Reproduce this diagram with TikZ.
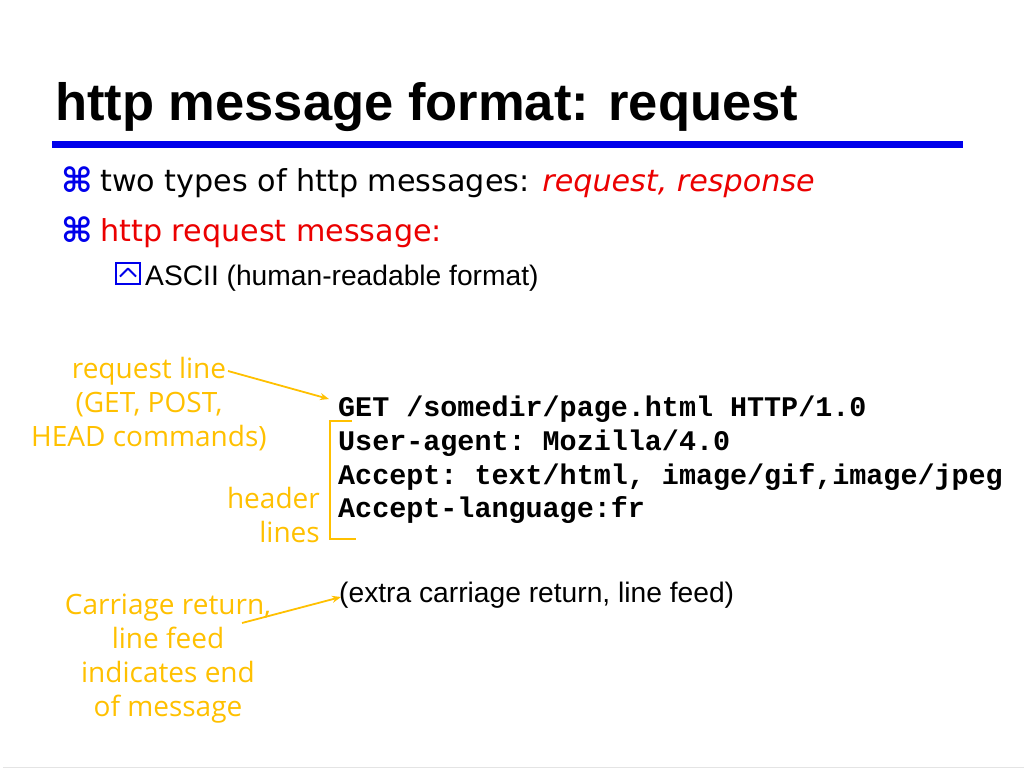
\documentclass[tikz,border=0pt]{standalone}
\usepackage{fontspec}
\setmainfont{DejaVu Sans}
\setsansfont{Liberation Sans}
\setmonofont{Liberation Mono}
\newfontfamily\notefont{Open Sans}
\usetikzlibrary{arrows.meta}
\definecolor{slideblue}{RGB}{0,0,235}
\definecolor{slidered}{RGB}{235,0,0}
\definecolor{notegold}{RGB}{255,192,0}
\definecolor{rulegray}{RGB}{228,228,228}

\begin{document}
\begin{tikzpicture}[x=1pt, y=-1pt,
  every node/.style = {inner sep=0pt},
  slidetitle/.style = {anchor=base west, font=\sffamily\bfseries\fontsize{52.5}{60}\selectfont},
  cmdmark/.style = {anchor=base west, text=slideblue, font=\bfseries\fontsize{34}{38}\selectfont},
  itemtext/.style = {anchor=base west, font=\fontsize{30.2}{34}\selectfont},
  subtext/.style = {anchor=base west, font=\sffamily\fontsize{28.2}{34}\selectfont},
  msgline/.style = {anchor=base west, font=\ttfamily\bfseries\fontsize{28.4}{34}\selectfont},
  note/.style = {text=notegold, font=\notefont\fontsize{28}{34}\selectfont},
  pointer/.style = {draw=notegold, line width=1.8pt, -{Stealth[length=9pt,width=7pt]}}
  ]
  \useasboundingbox (0,0) rectangle (1024,768);

  % title and rule
  \node (title) [slidetitle] at (55,120) {http message format: request};
  \fill[slideblue] (52,141) rectangle (963,148);
  \draw[rulegray, line width=1pt] (3,767) -- (1024,767);

  % bullets
  \node (mark1) [cmdmark] at (61,192) {⌘};
  \node (item1) [itemtext] at (100,191) {two types of http messages: \textcolor{slidered}{\itshape request, response}};
  \node (mark2) [cmdmark] at (61,242) {⌘};
  \node (item2) [itemtext, text=slidered] at (100,241) {http request message:};
  \node (box) [draw=slideblue, line width=2pt, minimum width=24pt, minimum height=21pt,
               anchor=south west] at (115,285) {};
  \draw[slideblue, line width=2pt, line join=round] ([shift={(-8pt,-3pt)}]box.center) -- ([shift={(0pt,5pt)}]box.center)
        -- ([shift={(8pt,-3pt)}]box.center);
  \node (sub1) [subtext] at (145,285) {ASCII (human-readable format)};

  % request message
  \node (get)  [msgline] at (338,416) {GET /somedir/page.html HTTP/1.0};
  \node (ua)   [msgline] at (338,450) {User-agent: Mozilla/4.0};
  \node (acc)  [msgline] at (338,484) {Accept: text/html, image/gif,image/jpeg};
  \node (lang) [msgline] at (338,517) {Accept-language:fr};
  \node (extra) [subtext] at (339,602) {(extra carriage return, line feed)};

  % notes
  \node (rlnote) [note, align=center, anchor=north] at (149,357)
        {request line\\(GET, POST,\\HEAD commands)};
  \node (hdnote) [note, align=right, anchor=north east] at (320,487)
        {header\\lines};
  \node (crnote) [note, align=center, anchor=north] at (168,594)
        {Carriage return,\\line feed\\indicates end\\of message};

  \coordinate (rlend) at (228,371);
  \coordinate (gettip) at (329,399);
  \coordinate (crend) at (242,623);
  \coordinate (extratip) at (341,597);
  \coordinate (hdtop) at (352,421);
  \coordinate (hdbot) at (356,539);

  \draw[pointer] (rlend) -- (gettip);
  \draw[pointer] (crend) -- (extratip);
  \draw[notegold, line width=1.8pt] (hdtop) -| (330,480) |- (hdbot);
\end{tikzpicture}
\end{document}
